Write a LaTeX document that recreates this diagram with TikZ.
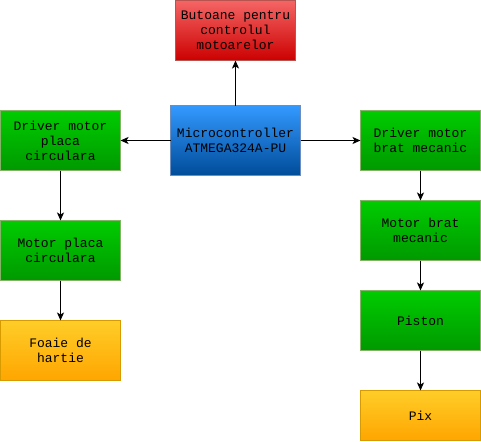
\documentclass[tikz,border=0pt]{standalone}
\usepackage{fontspec}
\setmonofont{Liberation Mono}
\usepackage{xcolor}
\usepackage{tikz}
\usetikzlibrary{positioning,arrows.meta}
\definecolor{redtop}{HTML}{F56565}
\definecolor{redbot}{HTML}{CC0000}
\definecolor{redline}{HTML}{B85450}
\definecolor{bluetop}{HTML}{3399FF}
\definecolor{bluebot}{HTML}{004C99}
\definecolor{blueline}{HTML}{6C8EBF}
\definecolor{greentop}{HTML}{00CC00}
\definecolor{greenbot}{HTML}{009900}
\definecolor{greenline}{HTML}{82B366}
\definecolor{orangetop}{HTML}{FFCD28}
\definecolor{orangebot}{HTML}{FFA500}
\definecolor{orangeline}{HTML}{D79B00}
\tikzset{
  blk/.style={draw,line width=1pt,outer sep=0pt,minimum width=120pt,minimum height=60pt,inner sep=2pt,
    align=center,font=\ttfamily\fontsize{13}{15}\selectfont},
  redblk/.style={blk,draw=redline,top color=redtop,bottom color=redbot},
  blueblk/.style={blk,draw=blueline,top color=bluetop,bottom color=bluebot,minimum width=130pt,minimum height=70pt},
  greenblk/.style={blk,draw=greenline,top color=greentop,bottom color=greenbot},
  orangeblk/.style={blk,draw=orangeline,top color=orangetop,bottom color=orangebot},
  link/.style={line width=1pt,-{Stealth[length=8pt,width=7pt,inset=2pt]}},
}

\begin{document}
\begin{tikzpicture}[x=1pt,y=-1pt,node distance=30pt]
  \useasboundingbox (0,0) rectangle (481,441);
  \node[blueblk] (mcu) at (235.5,140.5) {Microcontroller\\ATMEGA324A-PU};
  \node[redblk] (btn) at (235.5,30.5) {Butoane pentru\\controlul\\motoarelor};
  % left branch
  \node[greenblk] (ldrv) at (60.5,140.5) {Driver motor\\placa\\circulara};
  \node[greenblk,below=50pt of ldrv] (lmot) {Motor placa\\circulara};
  \node[orangeblk,below=40pt of lmot] (foaie) {Foaie de\\hartie};
  % right branch
  \node[greenblk] (rdrv) at (420.5,140.5) {Driver motor\\brat mecanic};
  \node[greenblk,below=of rdrv] (rmot) {Motor brat\\mecanic};
  \node[greenblk,below=of rmot] (piston) {Piston};
  \node[orangeblk,minimum height=50pt,below=40pt of piston] (pix) {Pix};
  \draw[link] (mcu) -- (btn);
  \draw[link] (mcu) -- (ldrv);
  \draw[link] (mcu) -- (rdrv);
  \draw[link] (ldrv) -- (lmot);
  \draw[link] (lmot) -- (foaie);
  \draw[link] (rdrv) -- (rmot);
  \draw[link] (rmot) -- (piston);
  \draw[link] (piston) -- (pix);
\end{tikzpicture}
\end{document}
